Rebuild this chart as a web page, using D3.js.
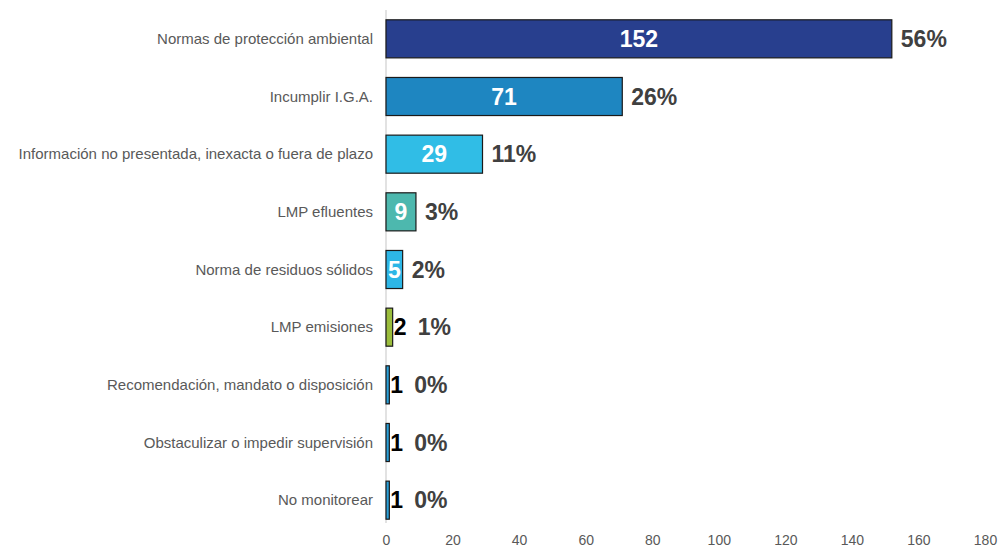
<!DOCTYPE html>
<html>
<head>
<meta charset="utf-8">
<script src="https://cdn.jsdelivr.net/npm/d3@7"></script>
<style>
  html, body { margin: 0; padding: 0; background: #fff; }
  svg { display: block; font-family: "Liberation Sans", Arial, sans-serif; }
</style>
</head>
<body>
<svg id="chart" width="1002" height="555"></svg>
<script>
const categories = [
  "Normas de protección ambiental",
  "Incumplir I.G.A.",
  "Información no presentada, inexacta o fuera de plazo",
  "LMP efluentes",
  "Norma de residuos sólidos ",
  "LMP emisiones",
  "Recomendación, mandato o disposición",
  "Obstaculizar o impedir supervisión ",
  "No monitorear"
];
const values = [152, 71, 29, 9, 5, 2, 1, 1, 1];
const percents = ["56%", "26%", "11%", "3%", "2%", "1%", "0%", "0%", "0%"];
const barColors = ["#283F8E", "#1E86C1", "#30BDE6", "#4DB8AE", "#2DB6E6", "#9BBD3C", "#2A9FD8", "#2A9FD8", "#2A9FD8"];
const xTicks = [0, 20, 40, 60, 80, 100, 120, 140, 160, 180];

const svg = d3.select("#chart");
const margin = {left: 386, right: 17, top: 10, bottom: 26};
const W = 1002, H = 555;

const x = d3.scaleLinear().domain([0, 180]).range([margin.left, W - margin.right]);
const y = d3.scaleBand().domain(categories).range([margin.top, H - margin.bottom]).paddingInner(0.34).paddingOuter(0.17);

// vertical axis line
svg.append("line")
  .attr("x1", x(0)).attr("x2", x(0))
  .attr("y1", margin.top).attr("y2", H - margin.bottom - 6)
  .attr("stroke", "#d9d9d9").attr("stroke-width", 1.5);

// x axis tick labels
const xAxis = d3.axisBottom(x).tickValues(xTicks).tickSize(0).tickPadding(0);
const gx = svg.append("g").attr("transform", `translate(0, ${H - 20})`).call(xAxis);
gx.select(".domain").remove();
gx.selectAll("text")
  .attr("font-size", 14).attr("fill", "#595959")
  .attr("font-family", "Liberation Sans, Arial, sans-serif");

// category labels
svg.append("g").selectAll("text").data(categories).join("text")
  .attr("x", x(0) - 13)
  .attr("y", d => y(d) + y.bandwidth() / 2)
  .attr("dy", "0.35em")
  .attr("text-anchor", "end")
  .attr("font-size", 15)
  .attr("fill", "#595959")
  .text(d => d);

// bars
svg.append("g").selectAll("rect").data(values).join("rect")
  .attr("x", x(0))
  .attr("y", (d, i) => y(categories[i]))
  .attr("width", d => x(d) - x(0))
  .attr("height", y.bandwidth())
  .attr("fill", (d, i) => barColors[i])
  .attr("stroke", "#1a1a1a")
  .attr("stroke-width", 1.2);

// value labels
svg.append("g").selectAll("text").data(values).join("text")
  .attr("x", d => d >= 5 ? (x(0) + x(d)) / 2 : x(d) + 1)
  .attr("y", (d, i) => y(categories[i]) + y.bandwidth() / 2)
  .attr("dy", "0.36em")
  .attr("text-anchor", d => d >= 5 ? "middle" : "start")
  .attr("font-size", 23)
  .attr("font-weight", "bold")
  .attr("fill", d => d >= 5 ? "#ffffff" : "#000000")
  .text(d => d);

// percent labels
svg.append("g").selectAll("text").data(values).join("text")
  .attr("x", d => d >= 5 ? x(d) + 9 : x(d) + 25)
  .attr("y", (d, i) => y(categories[i]) + y.bandwidth() / 2)
  .attr("dy", "0.36em")
  .attr("text-anchor", "start")
  .attr("font-size", 23)
  .attr("font-weight", "bold")
  .attr("fill", "#404040")
  .text((d, i) => percents[i]);
</script>
</body>
</html>
